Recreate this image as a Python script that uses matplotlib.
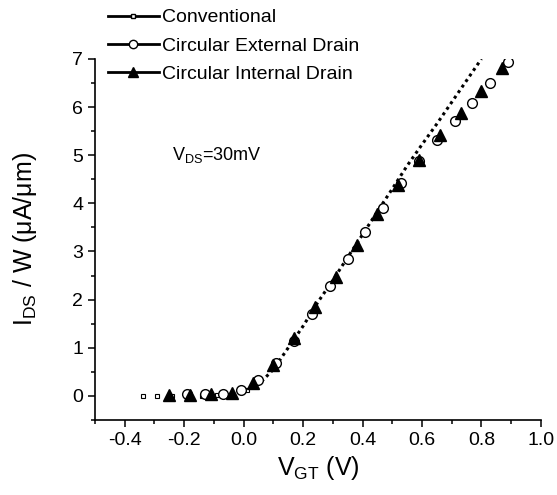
import matplotlib
matplotlib.use("Agg")
import matplotlib.pyplot as plt
from matplotlib.lines import Line2D
from matplotlib.ticker import MultipleLocator

plt.rcParams['font.family'] = ['Liberation Sans', 'DejaVu Sans']
plt.rcParams['mathtext.fontset'] = 'custom'
plt.rcParams['mathtext.rm'] = 'Liberation Sans'
plt.rcParams['mathtext.it'] = 'Liberation Sans'

# conventional device: sparse points below threshold, dense dotted curve above
conv_v = [-0.34, -0.29, -0.24, -0.19, -0.14, -0.09, -0.04, 0.01,
          0.06, 0.10, 0.15, 0.20, 0.25, 0.30, 0.35, 0.40, 0.45,
          0.50, 0.55, 0.60, 0.65, 0.70, 0.75, 0.80]
conv_i = [0.0, 0.0, 0.0, 0.0, 0.0, 0.01, 0.04, 0.12,
          0.30, 0.55, 1.00, 1.45, 1.95, 2.40, 2.88, 3.35, 3.83,
          4.30, 4.78, 5.22, 5.65, 6.10, 6.55, 7.00]

ext_v = [-0.19, -0.13, -0.07, -0.01, 0.05, 0.11, 0.17, 0.23, 0.29, 0.35,
         0.41, 0.47, 0.53, 0.59, 0.65, 0.71, 0.77, 0.83, 0.89]
ext_i = [0.03, 0.03, 0.05, 0.12, 0.34, 0.69, 1.15, 1.71, 2.29, 2.84,
         3.40, 3.91, 4.42, 4.87, 5.31, 5.71, 6.09, 6.49, 6.94]

int_v = [-0.25, -0.18, -0.11, -0.04, 0.03, 0.10, 0.17, 0.24, 0.31,
         0.38, 0.45, 0.52, 0.59, 0.66, 0.73, 0.80, 0.87]
int_i = [0.02, 0.02, 0.03, 0.06, 0.27, 0.65, 1.21, 1.85, 2.48,
         3.14, 3.78, 4.39, 4.89, 5.41, 5.87, 6.33, 6.81]

labels = ["Conventional", "Circular External Drain", "Circular Internal Drain"]

fig = plt.figure(figsize=(5.57, 4.95), dpi=100)
ax = fig.add_axes([0.1706, 0.1515, 0.8004, 0.7295])

# conventional: isolated squares at low bias, dotted curve above
split = 8
ax.plot(conv_v[:split], conv_i[:split], ls='none', marker='s', ms=2.5,
        mfc='white', mec='black', mew=0.8)
ax.plot(conv_v[split:], conv_i[split:], ls=(0, (1, 1.2)), lw=2.2, color='black')
ax.plot(ext_v, ext_i, ls='none', marker='o', ms=7, mfc='white', mec='black', mew=1)
ax.plot(int_v, int_i, ls='none', marker='^', ms=8, color='black')

ax.set_xlim(-0.5, 1.0)
ax.set_ylim(-0.5, 7)
ax.xaxis.set_minor_locator(MultipleLocator(0.1))
ax.yaxis.set_minor_locator(MultipleLocator(0.5))
ax.set_xticks([-0.4, -0.2, 0.0, 0.2, 0.4, 0.6, 0.8, 1.0])
ax.set_xticklabels(["-0.4", "-0.2", "0.0", "0.2", "0.4", "0.6", "0.8", "1.0"])
ax.set_yticks(range(0, 8))

for s in ['top', 'right']:
    ax.spines[s].set_visible(False)
for s in ['left', 'bottom']:
    ax.spines[s].set_linewidth(1.2)
ax.tick_params(which='major', direction='out', length=5, width=1.1, labelsize=14)
ax.tick_params(which='minor', direction='out', length=3, width=1.1)

ax.set_xlabel(r"$\mathregular{V_{GT}}$ (V)", fontsize=18, labelpad=4)
ax.set_ylabel(r"$\mathregular{I_{DS}}$ / W (μA/μm)", fontsize=18, labelpad=24)

ax.text(-0.24, 5.0, r"$\mathregular{V_{DS}}$=30mV", fontsize=13, va='center', ha='left')

handles = [
    Line2D([], [], color='black', lw=2, marker='s', ms=3, mfc='white', mec='black'),
    Line2D([], [], color='black', lw=2, marker='o', ms=6, mfc='white', mec='black'),
    Line2D([], [], color='black', lw=2, marker='^', ms=7),
]
fig.legend(handles, labels, loc='upper left', bbox_to_anchor=(0.18, 0.998),
           frameon=False, fontsize=14, handlelength=2.6, handletextpad=0.2,
           labelspacing=0.55, numpoints=1, borderaxespad=0)

fig.savefig("out.png", dpi=100)
